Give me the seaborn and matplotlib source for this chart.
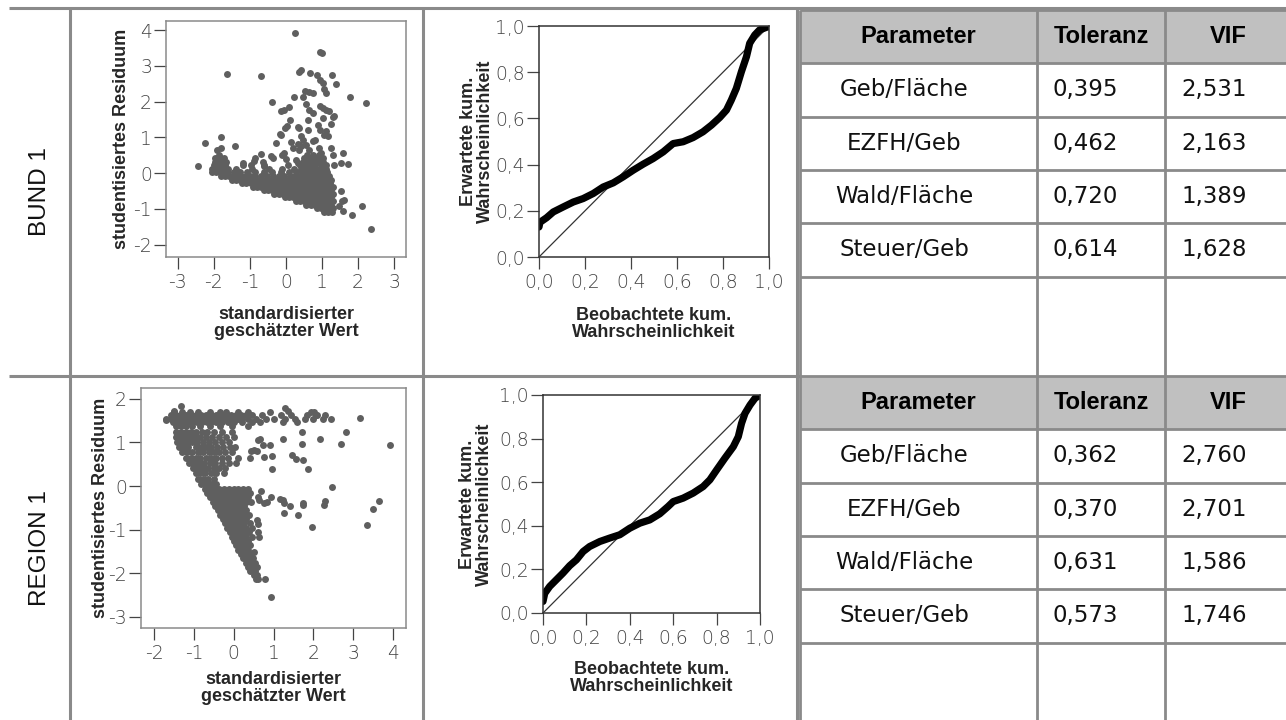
import pandas as pd
import seaborn as sns
import matplotlib.pyplot as plt
from matplotlib.patches import Rectangle

# ---- values ----
row_labels = ["BUND 1", "REGION 1"]
headers = ["Parameter", "Toleranz", "VIF"]
params = ["Geb/Fläche", "EZFH/Geb", "Wald/Fläche", "Steuer/Geb"]
bund_tol = [0.395, 0.462, 0.720, 0.614]
bund_vif = [2.531, 2.163, 1.389, 1.628]
region_tol = [0.362, 0.370, 0.631, 0.573]
region_vif = [2.760, 2.701, 1.586, 1.746]

bund_xticks = [-3, -2, -1, 0, 1, 2, 3]
bund_yticks = [-2, -1, 0, 1, 2, 3, 4]
region_xticks = [-2, -1, 0, 1, 2, 3, 4]
region_yticks = [-3, -2, -1, 0, 1, 2]
pp_ticks = [0.0, 0.2, 0.4, 0.6, 0.8, 1.0]

# scattered residual points (standardised fit, studentised residual)
bund_sparse = [
    (0.25, 3.93), (0.93, 3.39), (0.99, 3.36), (-1.65, 2.77), (-0.69, 2.71), (0.35, 2.84),
    (0.41, 2.89), (0.67, 2.79), (0.85, 2.75), (1.29, 2.76), (1.40, 2.50), (0.93, 2.61),
    (1.02, 2.53), (1.06, 2.35), (1.11, 2.25), (1.77, 2.14), (2.23, 1.96), (-0.39, 1.99),
    (0.21, 2.13), (0.46, 2.14), (0.54, 2.30), (0.65, 2.28), (0.74, 2.24), (0.93, 1.88),
    (1.02, 1.81), (1.11, 1.78), (1.20, 1.74), (0.56, 1.93), (-0.14, 1.74), (-0.05, 1.76),
    (0.07, 1.85), (0.65, 1.76), (0.74, 1.69), (1.30, 1.58), (1.34, 1.60), (1.02, 1.55),
    (0.12, 1.50), (0.62, 1.48), (0.89, 1.36), (0.94, 1.22), (1.26, 1.38), (-0.03, 1.25),
    (0.04, 1.31), (0.32, 1.30), (0.37, 1.25), (-0.18, 1.10), (-0.14, 1.07), (0.60, 1.21),
    (1.11, 1.18), (1.16, 1.04), (1.06, 1.08), (0.43, 1.04), (0.48, 0.94), (0.74, 0.90),
    (0.80, 0.94), (-1.79, 1.01), (-2.25, 0.83), (-1.41, 0.77), (-1.92, 0.66), (-1.79, 0.71),
    (-0.27, 0.84), (0.15, 0.86), (0.19, 0.69), (0.33, 0.82), (0.37, 0.66), (0.42, 0.76),
    (0.56, 0.78), (0.63, 0.66), (0.91, 0.71), (0.97, 0.57), (1.02, 0.43), (1.25, 0.71),
    (1.30, 0.52), (1.57, 0.56), (1.72, 0.25), (1.53, 0.29), (-0.69, 0.54), (-0.85, 0.41),
    (-0.43, 0.47), (-0.35, 0.41), (-0.12, 0.52), (0.00, 0.39), (-0.05, 0.56), (-2.43, 0.21),
    (-1.19, 0.29), (-0.96, 0.24), (-0.88, 0.34), (-0.65, 0.32), (-0.60, 0.20), (0.28, 0.38),
    (0.32, 0.29), (0.65, 0.29), (0.79, 0.24), (1.34, 0.24), (2.12, -0.91), (1.82, -1.18),
    (2.36, -1.56), (1.57, -1.07), (1.48, -0.93), (1.56, -0.79), (1.62, -0.74), (1.53, -0.49),
]
# dense wedge of BUND, read row by row (residual, fitted values)
bund_rows = [
    (-1.08, [1.05, 1.17, 1.28]),
    (-0.98, [0.86, 0.97, 1.08, 1.19, 1.30]),
    (-0.88, [0.56, 0.68, 0.80, 0.91, 1.02, 1.13, 1.24]),
    (-0.78, [0.27, 0.39, 0.50, 0.62, 0.73, 0.85, 0.96, 1.08, 1.20, 1.30]),
    (-0.68, [-0.03, 0.09, 0.20, 0.32, 0.43, 0.55, 0.66, 0.78, 0.90, 1.01, 1.13, 1.25]),
    (-0.58, [-0.32, -0.20, -0.09, 0.03, 0.14, 0.26, 0.37, 0.49, 0.60, 0.72, 0.84, 0.95, 1.07, 1.19, 1.30]),
    (-0.48, [-0.62, -0.50, -0.39, -0.27, -0.16, -0.04, 0.07, 0.19, 0.30, 0.42, 0.54, 0.65, 0.77, 0.88,
             1.00, 1.12, 1.24]),
    (-0.38, [-0.91, -0.80, -0.68, -0.57, -0.45, -0.34, -0.22, -0.11, 0.01, 0.12, 0.24, 0.35, 0.47, 0.58,
             0.70, 0.82, 0.93, 1.05, 1.17, 1.30]),
    (-0.28, [-1.21, -1.10, -0.98, -0.87, -0.75, -0.64, -0.52, -0.41, -0.29, -0.18, -0.06, 0.05, 0.17,
             0.28, 0.40, 0.52, 0.63, 0.75, 0.86, 0.98, 1.10, 1.21]),
    (-0.18, [-1.50, -1.39, -1.27, -1.16, -1.04, -0.93, -0.81, -0.70, -0.58, -0.47, -0.35, -0.24, -0.12,
             -0.01, 0.11, 0.22, 0.34, 0.45, 0.57, 0.68, 0.80, 0.92, 1.03, 1.15, 1.26]),
    (-0.08, [-1.80, -1.69, -1.58, -1.47, -1.35, -1.24, -1.12, -1.00, -0.86, -0.70, -0.52, -0.36, -0.20,
             -0.05, 0.10, 0.24, 0.38, 0.50, 0.62, 0.74, 0.86, 0.98, 1.10, 1.20]),
    (0.02, [-2.04, -1.94, -1.84, -1.73, -1.60, -1.45, -1.28, -1.08, -0.86, -0.62, -0.40, -0.15, 0.08,
            0.28, 0.44, 0.58, 0.72, 0.86, 1.00, 1.14]),
    (0.12, [-2.04, -1.94, -1.84, -1.74, -1.62, -1.40, -0.95, -0.48, -0.10, 0.22, 0.42, 0.56, 0.70, 0.84,
            0.98, 1.12]),
    (0.22, [-2.00, -1.90, -1.80, -1.68, -1.20, -0.62, 0.05, 0.38, 0.52, 0.66, 0.80, 0.96, 1.10]),
    (0.32, [-1.98, -1.88, -1.78, -1.66, 0.46, 0.60, 0.74, 0.88, 1.02]),
    (0.42, [-1.96, -1.84, -1.72, 0.50, 0.66, 0.82, 0.96]),
    (0.52, [-1.86, 0.58, 0.76, 0.92]),
]

region_sparse = [
    (3.18, 1.56), (3.94, 0.93), (2.83, 1.24), (2.70, 0.97), (2.17, 1.08), (1.71, 1.23),
    (1.71, 0.97), (1.24, 1.08), (0.90, 0.95), (0.73, 0.95), (0.60, 1.05), (0.67, 1.07),
    (0.44, 0.81), (0.52, 0.83), (0.58, 0.80), (0.42, 0.64), (0.77, 0.66), (0.96, 0.70),
    (0.97, 0.38), (1.47, 0.72), (1.57, 0.61), (1.75, 0.59), (1.86, 0.38), (2.47, -0.02),
    (0.69, -0.11), (0.94, -0.25), (0.60, -0.25), (0.64, -0.31), (0.77, -0.39), (0.84, -0.37),
    (1.17, -0.29), (1.23, -0.32), (1.27, -0.39), (1.42, -0.47), (1.26, -0.63), (1.61, -0.67),
    (1.75, -0.39), (1.75, -0.43), (1.97, -0.95), (2.29, -0.34), (2.28, -0.44), (3.66, -0.35),
    (3.49, -0.52), (3.36, -0.90), (0.59, -0.79), (0.62, -0.87), (0.62, -1.06), (0.64, -1.16),
    (0.50, -1.52), (0.56, -2.14), (0.62, -2.14), (0.79, -2.14), (0.93, -2.55), (-1.32, 1.83),
    (-1.49, 1.73), (-1.70, 1.51), (1.30, 1.78), (1.36, 1.72), (2.03, 1.70), (2.07, 1.64),
]
region_rows = [
    (1.70, [-1.50, -1.30, -1.10, -0.90, -0.60, -0.35, -0.20, 0.10, 0.35, 0.90, 1.95]),
    (1.62, [-1.58, -1.45, -1.32, -1.20, -1.08, -0.95, -0.82, -0.70, -0.57, -0.45, -0.32, -0.20, -0.07,
            0.05, 0.18, 0.30, 0.45, 0.70, 1.20, 1.45, 1.85, 2.10, 2.30]),
    (1.54, [-1.70, -1.58, -1.46, -1.34, -1.22, -1.10, -0.98, -0.86, -0.74, -0.62, -0.50, -0.38, -0.26,
            -0.14, -0.02, 0.10, 0.22, 0.35, 0.55, 0.80, 1.00, 1.30, 1.55, 1.80, 2.00, 2.25, 2.45]),
    (1.46, [-1.52, -1.40, -1.28, -1.16, -1.04, -0.92, -0.80, -0.68, -0.56, -0.44, -0.30, -0.15, 0.00,
            0.20, 0.45, 0.65, 1.25, 1.60]),
    (1.37, [-1.45, -1.33, -1.20, -1.05, -0.85, -0.60, -0.35, -0.05, 0.35]),
    (1.25, [-1.45, -1.33, -1.20, -1.07, -0.94, -0.80, -0.66, -0.50, -0.30, -0.05]),
    (1.13, [-1.45, -1.34, -1.22, -1.10, -0.98, -0.85, -0.70, -0.55, -0.38, -0.20, 0.00]),
    (1.01, [-1.42, -1.30, -1.18, -1.06, -0.92, -0.78, -0.62, -0.46, -0.30, -0.12]),
    (0.89, [-1.38, -1.26, -1.14, -0.95, -0.82, -0.70, -0.56, -0.42, -0.28, -0.10, 0.02]),
    (0.77, [-1.30, -1.18, -1.06, -0.90, -0.76, -0.62, -0.50, -0.36, -0.22, -0.05]),
    (0.65, [-1.20, -1.08, -0.96, -0.84, -0.70, -0.56, -0.44, -0.30, -0.15, 0.10]),
    (0.53, [-1.12, -1.00, -0.88, -0.74, -0.60, -0.46, -0.30, -0.12, 0.05]),
    (0.41, [-1.02, -0.90, -0.78, -0.64, -0.50, -0.36, -0.22]),
    (0.29, [-0.96, -0.84, -0.72, -0.58, -0.44, -0.25]),
    (0.17, [-0.90, -0.78, -0.64, -0.50]),
    (0.05, [-0.82, -0.70, -0.56, -0.45]),
    (-0.06, [-0.72, -0.60, -0.48, -0.36, -0.24, -0.12, 0.00, 0.12, 0.24, 0.36]),
    (-0.16, [-0.66, -0.54, -0.42, -0.30, -0.18, -0.06, 0.06, 0.18, 0.30, 0.42]),
    (-0.26, [-0.60, -0.48, -0.36, -0.24, -0.12, 0.00, 0.12, 0.24, 0.36]),
    (-0.36, [-0.53, -0.41, -0.29, -0.17, -0.05, 0.07, 0.19, 0.31, 0.43]),
    (-0.46, [-0.46, -0.34, -0.22, -0.10, 0.02, 0.14, 0.26]),
    (-0.56, [-0.40, -0.28, -0.16, -0.04, 0.08, 0.20, 0.32]),
    (-0.66, [-0.34, -0.22, -0.10, 0.02, 0.14, 0.26, 0.38]),
    (-0.76, [-0.28, -0.16, -0.04, 0.08, 0.20, 0.32]),
    (-0.86, [-0.22, -0.10, 0.02, 0.14, 0.26, 0.40]),
    (-0.96, [-0.16, -0.04, 0.08, 0.20, 0.32, 0.46]),
    (-1.06, [-0.10, 0.02, 0.14, 0.26, 0.38]),
    (-1.16, [-0.05, 0.07, 0.19, 0.31, 0.45]),
    (-1.26, [0.00, 0.12, 0.24, 0.36]),
    (-1.36, [0.05, 0.17, 0.29, 0.40]),
    (-1.46, [0.12, 0.24, 0.36]),
    (-1.56, [0.18, 0.30, 0.42]),
    (-1.66, [0.24, 0.36, 0.48]),
    (-1.76, [0.30, 0.42, 0.54]),
    (-1.86, [0.36, 0.48, 0.58]),
    (-1.96, [0.42, 0.54]),
    (-2.04, [0.50, 0.58]),
]

# P-P plot curves (observed vs expected cumulative probability)
bund_obs = [0.0, 0.004, 0.033, 0.062, 0.106, 0.149, 0.192, 0.236, 0.279, 0.323, 0.366, 0.41, 0.453,
            0.496, 0.54, 0.583, 0.627, 0.67, 0.713, 0.75, 0.786, 0.815, 0.836, 0.858, 0.88, 0.902,
            0.916, 0.938, 0.959, 0.996, 1.0]
bund_exp = [0.13, 0.15, 0.17, 0.195, 0.217, 0.238, 0.253, 0.275, 0.303, 0.321, 0.347, 0.376, 0.402,
            0.426, 0.455, 0.491, 0.499, 0.517, 0.542, 0.571, 0.604, 0.636, 0.679, 0.73, 0.802, 0.867,
            0.925, 0.961, 0.983, 0.997, 1.0]
region_obs = [0.0, 0.008, 0.031, 0.062, 0.092, 0.123, 0.154, 0.185, 0.215, 0.262, 0.308, 0.354, 0.4,
              0.446, 0.492, 0.538, 0.577, 0.6, 0.646, 0.692, 0.738, 0.769, 0.8, 0.838, 0.877, 0.9,
              0.915, 0.931, 0.954, 0.977, 1.0]
region_exp = [0.053, 0.09, 0.122, 0.153, 0.183, 0.217, 0.244, 0.282, 0.305, 0.328, 0.344, 0.359,
              0.389, 0.412, 0.427, 0.455, 0.489, 0.511, 0.527, 0.55, 0.58, 0.611, 0.656, 0.71, 0.763,
              0.809, 0.87, 0.916, 0.954, 0.985, 1.0]

# ---- styling / layout ----
sns.set_theme(style="white")
plt.rcParams["font.family"] = ["DejaVu Sans"]
plt.rcParams["axes.unicode_minus"] = False

W, H = 1286, 720
fig = plt.figure(figsize=(W / 100, H / 100), dpi=100)
fig.patch.set_facecolor("white")

GRID = "#8a8a8a"
DOT = "#5f5f5f"
TICK = "#444444"
BOLD = dict(family="Liberation Sans", fontweight="bold", fontsize=13)


def box(l, t, r, b):
    return [l / W, 1 - b / H, (r - l) / W, (b - t) / H]


def comma(v, n):
    return f"{v:.{n}f}".replace(".", ",")


bg = fig.add_axes([0, 0, 1, 1], zorder=-1)
bg.set_xlim(0, W)
bg.set_ylim(H, 0)
bg.axis("off")

# outer frame of the layout table
bg.hlines(8, 9, W, color=GRID, lw=2.2)
bg.hlines(376, 9, 800, color=GRID, lw=2.2)
bg.vlines([70, 423, 797], 8, H, color=GRID, lw=2.2)

for label, yc in zip(row_labels, [192, 548]):
    bg.text(40, yc, label, rotation=90, ha="center", va="center", fontsize=17.5,
            family="Liberation Sans", color="#111111")


def style_ticks(ax, spine_color):
    for sp in ax.spines.values():
        sp.set_visible(True)
        sp.set_color(spine_color)
        sp.set_linewidth(1.1)
    ax.tick_params(bottom=True, left=True, direction="out", length=8.5, width=0.9,
                   color=TICK, labelcolor=TICK, labelsize=13.5)
    ax.tick_params(axis="x", pad=3)
    ax.tick_params(axis="y", pad=1.5)
    for t in ax.get_xticklabels() + ax.get_yticklabels():
        t.set_fontweight("light")


def residual_plot(pos, sparse, rows, xlim, ylim, xticks, yticks, xl_y, yl_x):
    ax = fig.add_axes(box(*pos))
    pts = sparse + [(x, y) for y, xs in rows for x in xs]
    df = pd.DataFrame(pts, columns=["fit", "resid"])
    sns.scatterplot(data=df, x="fit", y="resid", ax=ax, s=25, color=DOT, linewidth=0)
    ax.set_xlim(xlim)
    ax.set_ylim(ylim)
    ax.set_xticks(xticks)
    ax.set_yticks(yticks)
    ax.set_xticklabels([str(t) for t in xticks])
    ax.set_yticklabels([str(t) for t in yticks])
    style_ticks(ax, GRID)
    ax.set_xlabel("standardisierter\ngeschätzter Wert", va="center", linespacing=1.05, **BOLD)
    ax.set_ylabel("studentisiertes Residuum", va="center", **BOLD)
    ax.xaxis.set_label_coords(0.5, xl_y)
    ax.yaxis.set_label_coords(yl_x, 0.5)


def pp_plot(pos, obs, exp, xl_y, yl_x):
    ax = fig.add_axes(box(*pos))
    ax.axline((0, 0), slope=1, color="#333333", lw=0.9)
    sns.lineplot(x=obs, y=exp, ax=ax, sort=False, estimator=None, color="black", lw=5.2,
                 solid_capstyle="round")
    ax.set_xlim(0, 1)
    ax.set_ylim(0, 1)
    ax.set_xticks(pp_ticks)
    ax.set_yticks(pp_ticks)
    ax.set_xticklabels([comma(t, 1) for t in pp_ticks])
    ax.set_yticklabels([comma(t, 1) for t in pp_ticks])
    style_ticks(ax, "#333333")
    ax.set_xlabel("Beobachtete kum.\nWahrscheinlichkeit", va="center", linespacing=1.05, **BOLD)
    ax.set_ylabel("Erwartete kum.\nWahrscheinlichkeit", va="center", linespacing=1.05, **BOLD)
    ax.xaxis.set_label_coords(0.5, xl_y)
    ax.yaxis.set_label_coords(yl_x, 0.5)


residual_plot((166, 21, 406, 257), bund_sparse, bund_rows, (-3.33, 3.33), (-2.35, 4.26),
              bund_xticks, bund_yticks, -0.28, -0.1875)
residual_plot((141, 388, 406, 628), region_sparse, region_rows, (-2.33, 4.33), (-3.26, 2.25),
              region_xticks, region_yticks, -0.25, -0.151)
pp_plot((539, 26, 769, 257), bund_obs, bund_exp, -0.29, -0.27)
pp_plot((543, 395, 760, 613), region_obs, region_exp, -0.298, -0.309)

# ---- collinearity tables ----
col_edges = [800, 1037, 1165, 1292]
param_x = 904


def vif_table(top, bottom, tols, vifs):
    rows = [top + 53.3 * i for i in range(6)] + [bottom]
    bg.add_patch(Rectangle((col_edges[0], rows[0]), col_edges[-1] - col_edges[0], rows[1] - rows[0],
                           fc="#c0c0c0", ec="none"))
    bg.hlines(rows[:-1], col_edges[0], col_edges[-1], color=GRID, lw=2)
    bg.vlines(col_edges, rows[0], bottom, color=GRID, lw=2)
    hy = (rows[0] + rows[1]) / 2
    for i, h in enumerate(headers):
        bg.text((col_edges[i] + col_edges[i + 1]) / 2, hy, h, ha="center", va="center",
                family="Liberation Sans", fontweight="bold", fontsize=17, color="black")
    for i, (p, t, v) in enumerate(zip(params, tols, vifs)):
        yc = (rows[i + 1] + rows[i + 2]) / 2
        bg.text(param_x, yc, p, ha="center", va="center", fontsize=16.5, color="#111111")
        bg.text(col_edges[1] + 16, yc, comma(t, 3), ha="left", va="center", fontsize=16.5,
                color="#111111")
        bg.text(col_edges[2] + 16, yc, comma(v, 3), ha="left", va="center", fontsize=16.5,
                color="#111111")


vif_table(10, 376, bund_tol, bund_vif)
vif_table(376, H, region_tol, region_vif)

fig.savefig("out.png", dpi=100)
